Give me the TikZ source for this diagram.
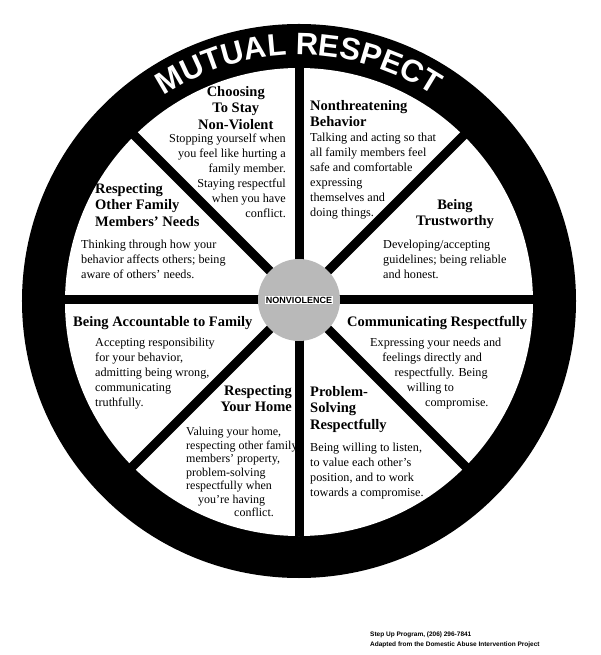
\documentclass[tikz,border=0pt]{standalone}
\usepackage{fontspec}
\setmainfont{Liberation Serif}
\setsansfont{Liberation Sans}
\usetikzlibrary{decorations.text}

\tikzset{
  head/.style={font=\fontsize{14.5}{16.5}\selectfont\bfseries, inner sep=0pt},
  body/.style={font=\fontsize{12.2}{15}\selectfont, inner sep=0pt},
}

\begin{document}
\begin{tikzpicture}[x=1pt, y=1pt]
    \useasboundingbox (-299, -355) rectangle (301, 300);

    % wheel
    \fill [black] (0, -1) circle (277);
    \fill [white] (0, -2) circle (234);
    \foreach \a in {0, 45, ..., 315} {
      \draw [line width=9pt] (0, 0) -- (\a:236);
    }
    \fill [gray!55] (0, 0) circle (41);
    \node (hub) [fill=white, inner sep=1pt, font=\sffamily\bfseries\fontsize{9}{9}\selectfont]
      at (0, 0) {NONVIOLENCE};

    % rim text
    \path [decorate, decoration={text along path, text align=center,
      text={|\sffamily\bfseries\fontsize{31}{31}\selectfont\color{white}|MUTUAL RESPECT}}]
      (150:245) arc (150:30:245);

    % top left
    \node (stayH) [head, anchor=north west, align=center] at (-101, 214)
      {Choosing\\To Stay\\Non-Violent};
    \node (stayB) [body, anchor=north east, align=right] at (-13, 166)
      {Stopping yourself when\\you feel like hurting a\\family member.\\Staying respectful\\when you have\\conflict.};

    % top right
    \node (threatH) [head, anchor=north west, align=left] at (11, 200)
      {Nonthreatening\\Behavior};
    \node (threatB) [body, anchor=north west, align=left] at (11, 167)
      {Talking and acting so that\\all family members feel\\safe and comfortable\\expressing\\themselves and\\doing things.};

    % left upper
    \node (needsH) [head, anchor=north west, align=left] at (-204, 117)
      {Respecting\\Other Family\\Members' Needs};
    \node (needsB) [body, anchor=north west, align=left] at (-218, 60)
      {Thinking through how your\\behavior affects others; being\\aware of others' needs.};

    % right upper
    \node (trustH) [head, anchor=north, align=center] at (156, 101)
      {Being\\Trustworthy};
    \node (trustB) [body, anchor=north west, align=left] at (84, 60)
      {Developing/accepting\\guidelines; being reliable\\and honest.};

    % left lower
    \node (accH) [head, anchor=north west] at (-226, -16) {Being Accountable to Family};
    \node (accB) [body, anchor=north west, align=left] at (-204, -38)
      {Accepting responsibility\\for your behavior,\\admitting being wrong,\\communicating\\truthfully.};

    % right lower
    \node (commH) [head, anchor=north west] at (48, -16) {Communicating Respectfully};
    \node (commB) [body, anchor=north west, align=left] at (71, -38)
      {Expressing your needs and\\\quad feelings directly and\\\qquad respectfully.  Being\\\qquad\quad willing to\\\qquad\qquad\ \ compromise.};

    % bottom left
    \node (homeH) [head, anchor=north east, align=right] at (-7, -85)
      {Respecting\\Your Home};
    \node (homeB) [body, anchor=north west, align=left,
      font=\fontsize{12}{13.5}\selectfont] at (-113, -127)
      {Valuing your home,\\respecting other family\\members' property,\\problem-solving\\respectfully when\\\quad you're having\\\qquad\qquad conflict.};

    % bottom right
    \node (probH) [head, anchor=north west, align=left] at (11, -86)
      {Problem-\\Solving\\Respectfully};
    \node (probB) [body, anchor=north west, align=left] at (11, -143)
      {Being willing to listen,\\to value each other's\\position, and to work\\towards a compromise.};

    % credit
    \node (credit) [anchor=north west, align=left, inner sep=0pt,
      font=\sffamily\bfseries\fontsize{6.5}{10}\selectfont] at (71, -332)
      {Step Up Program, (206) 296-7841\\Adapted from the Domestic Abuse Intervention Project};
\end{tikzpicture}
\end{document}
